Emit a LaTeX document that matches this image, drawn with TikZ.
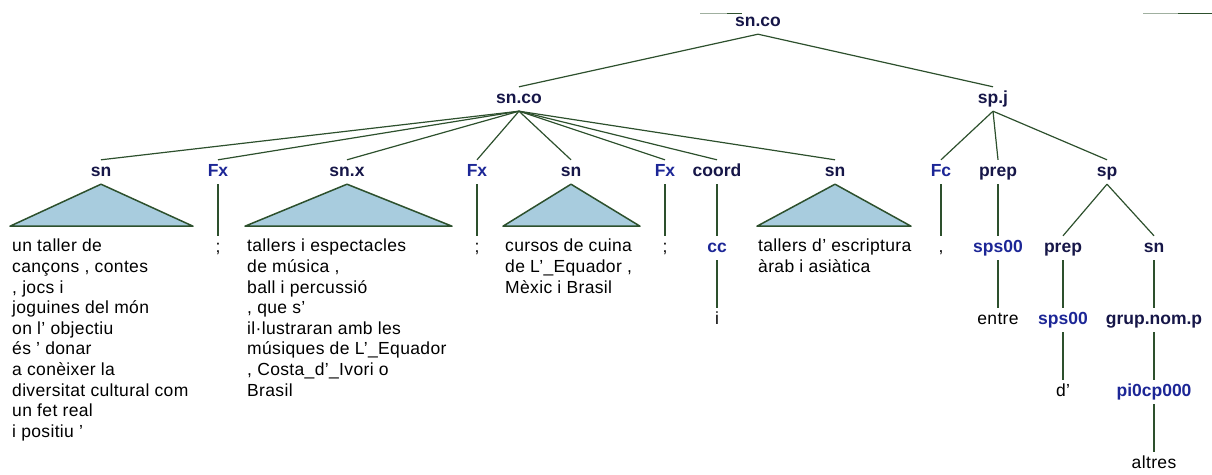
\documentclass[tikz,border=0pt]{standalone}
\usepackage{fontspec}
\setmainfont{Liberation Sans}
\usepackage{tikz}

\definecolor{edgegreen}{RGB}{45,80,45}
\definecolor{tagnavy}{RGB}{22,22,72}
\definecolor{posblue}{RGB}{28,38,150}
\definecolor{triblue}{RGB}{168,204,222}

\begin{document}
\begin{tikzpicture}[x=1pt,y=-1pt,
    phrase/.style={font=\fontsize{17.5}{20.6}\selectfont\bfseries,text=tagnavy,inner sep=0pt,minimum height=24pt,text height=9pt,text depth=0pt},
    postag/.style={phrase,text=posblue},
    token/.style={font=\fontsize{17.5}{20.6}\selectfont\addfontfeature{LetterSpace=2},inner sep=0pt,minimum height=24pt,text height=9pt,text depth=0pt},
    chunk/.style={font=\fontsize{17.5}{20.6}\selectfont\addfontfeature{LetterSpace=2},inner sep=0pt,anchor=north west,align=left},
    branch/.style={draw=edgegreen,line width=1.2pt},
    roof/.style={draw=edgegreen,line width=1.5pt,fill=triblue,line join=round}]
            \useasboundingbox (0,0) rectangle (1212,474);
            % leftover strokes at the top
            \draw [edgegreen!45,line width=1pt] (700,13) -- (727,13);
            \draw [edgegreen,line width=1.5pt] (727,13.5) -- (742,13.5);
            \draw [edgegreen!45,line width=1pt] (1143,13) -- (1178,13);
            \draw [edgegreen,line width=1.5pt] (1178,13.5) -- (1212,13.5);
            % categories
            \node [phrase] (root) at (758,22) {sn.co};
            \node [phrase] (snco) at (519,99) {sn.co};
            \node [phrase] (spj) at (993,99) {sp.j};
            \node [phrase] (sna) at (101,172) {sn};
            \node [postag] (fxa) at (218,172) {Fx};
            \node [phrase] (snx) at (347,172) {sn.x};
            \node [postag] (fxb) at (477,172) {Fx};
            \node [phrase] (snb) at (571,172) {sn};
            \node [postag] (fxc) at (665,172) {Fx};
            \node [phrase] (coord) at (717,172) {coord};
            \node [phrase] (snc) at (835,172) {sn};
            \node [postag] (fc) at (941,172) {Fc};
            \node [phrase] (prepa) at (998,172) {prep};
            \node [phrase] (sp) at (1107,172) {sp};
            \node [token] (semia) at (218,248) {;};
            \node [token] (semib) at (477,248) {;};
            \node [token] (semic) at (665,248) {;};
            \node [postag] (cc) at (717,248) {cc};
            \node [token] (comma) at (941,248) {,};
            \node [postag] (spsa) at (998,248) {sps00};
            \node [phrase] (prepb) at (1063,248) {prep};
            \node [phrase] (snd) at (1154,248) {sn};
            \node [token] (conj) at (717,320) {i};
            \node [token] (entre) at (998,320) {entre};
            \node [postag] (spsb) at (1063,320) {sps00};
            \node [phrase] (grup) at (1154,320) {grup.nom.p};
            \node [token] (de) at (1063,392) {d’};
            \node [postag] (pron) at (1154,392) {pi0cp000};
            \node [token] (altres) at (1154,464) {altres};
            % collapsed phrases
            \draw [roof] (sna.south) -- ++(-91,42) -- ++(183,0) -- cycle;
            \draw [roof] (snx.south) -- ++(-102,42) -- ++(207,0) -- cycle;
            \draw [roof] (snb.south) -- ++(-68,42) -- ++(137,0) -- cycle;
            \draw [roof] (snc.south) -- ++(-78,42) -- ++(154,0) -- cycle;
            \node [chunk] (txa) at (12,239) {un taller de\\cançons , contes\\, jocs i\\joguines del món\\on l’ objectiu\\és ’ donar\\a conèixer la\\diversitat cultural com\\un fet real\\i positiu ’};
            \node [chunk] (txb) at (247,239) {tallers i espectacles\\de música ,\\ball i percussió\\, que s’\\il·lustraran amb les\\músiques de L’\_Equador\\, Costa\_d’\_Ivori o\\Brasil};
            \node [chunk] (txc) at (505,239) {cursos de cuina\\de L’\_Equador ,\\Mèxic i Brasil};
            \node [chunk] (txd) at (758,239) {tallers d’ escriptura\\àrab i asiàtica};
            % branches
            \draw [branch] (root.south) -- (snco.north);
            \draw [branch] (root.south) -- (spj.north);
            \draw [branch] (snco.south) -- (sna.north);
            \draw [branch] (snco.south) -- (fxa.north);
            \draw [branch] (snco.south) -- (snx.north);
            \draw [branch] (snco.south) -- (fxb.north);
            \draw [branch] (snco.south) -- (snb.north);
            \draw [branch] (snco.south) -- (fxc.north);
            \draw [branch] (snco.south) -- (coord.north);
            \draw [branch] (snco.south) -- (snc.north);
            \draw [branch] (spj.south) -- (fc.north);
            \draw [branch] (spj.south) -- (prepa.north);
            \draw [branch] (spj.south) -- (sp.north);
            \draw [branch] (fxa.south) -- (semia.north);
            \draw [branch] (fxb.south) -- (semib.north);
            \draw [branch] (fxc.south) -- (semic.north);
            \draw [branch] (coord.south) -- (cc.north);
            \draw [branch] (cc.south) -- (conj.north);
            \draw [branch] (fc.south) -- (comma.north);
            \draw [branch] (prepa.south) -- (spsa.north);
            \draw [branch] (spsa.south) -- (entre.north);
            \draw [branch] (sp.south) -- (prepb.north);
            \draw [branch] (sp.south) -- (snd.north);
            \draw [branch] (prepb.south) -- (spsb.north);
            \draw [branch] (spsb.south) -- (de.north);
            \draw [branch] (snd.south) -- (grup.north);
            \draw [branch] (grup.south) -- (pron.north);
            \draw [branch] (pron.south) -- (altres.north);
        \end{tikzpicture}
\end{document}
